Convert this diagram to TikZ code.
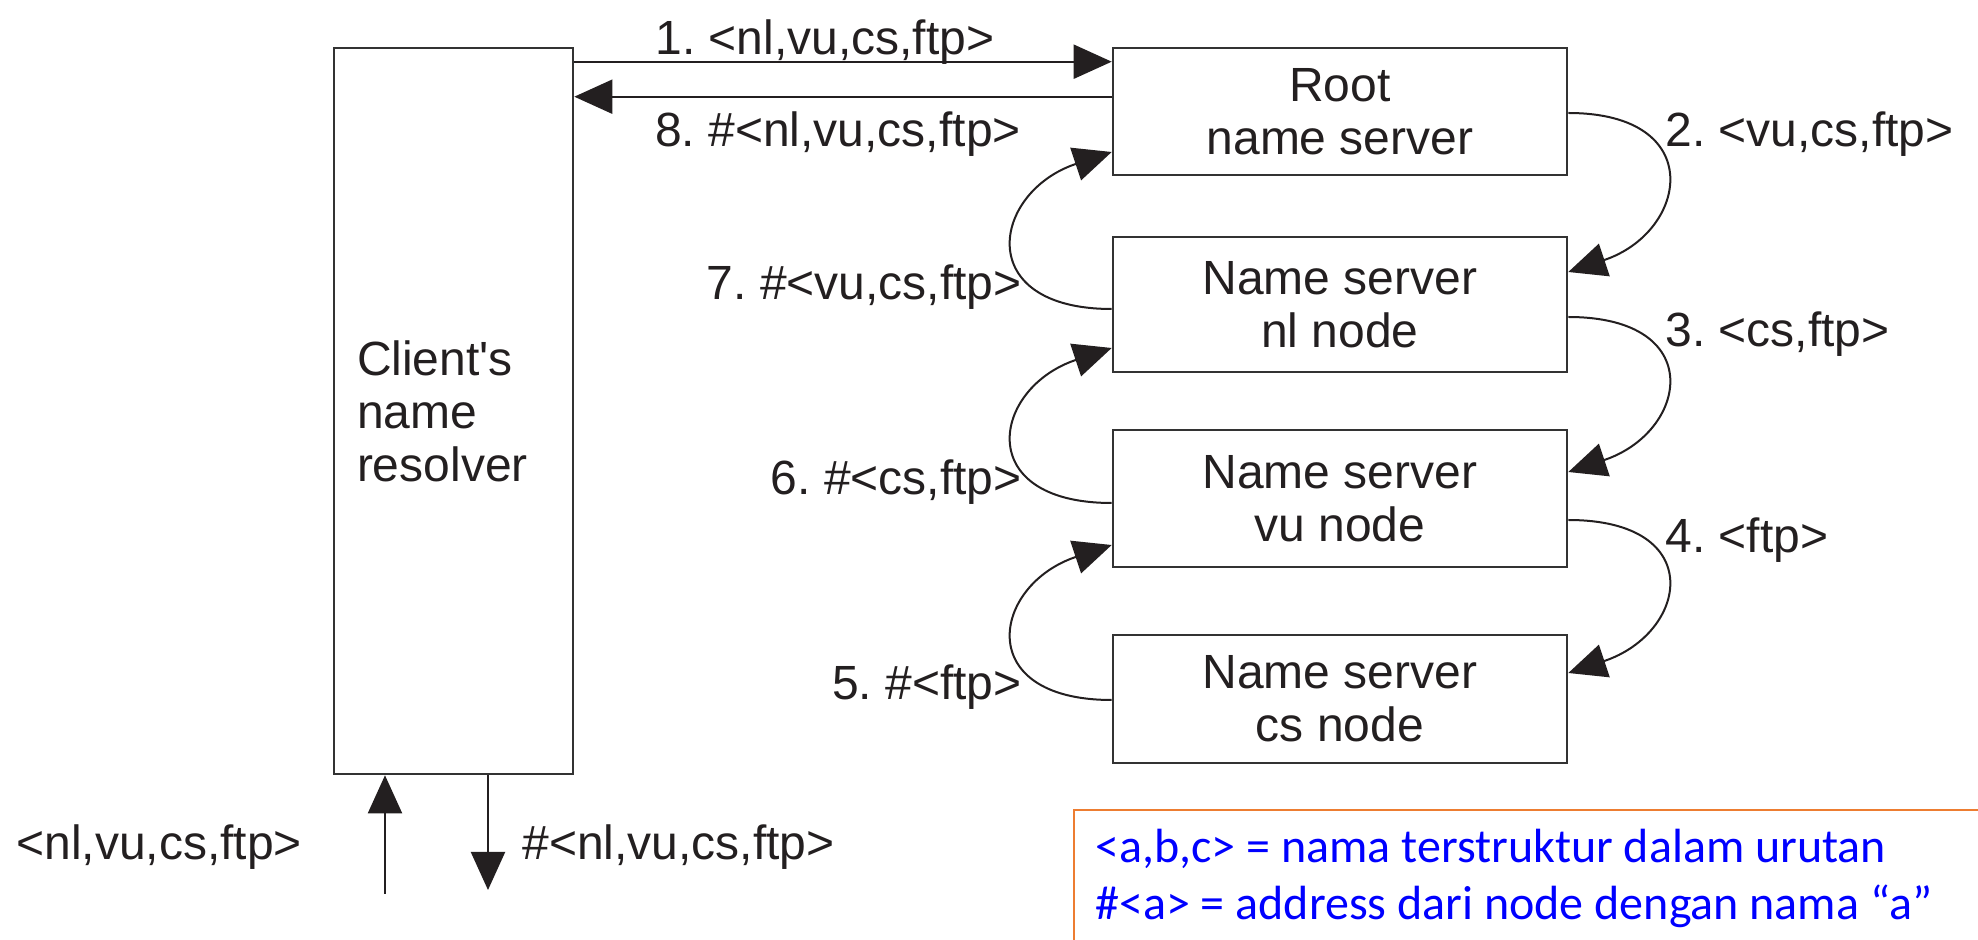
\documentclass[tikz,border=0pt]{standalone}
\usepackage{fontspec}
\newfontfamily\arialfont{Liberation Sans}
\newfontfamily\legfont{Carlito}
\usetikzlibrary{arrows.meta,calc}
\definecolor{ink}{HTML}{231F20}
\definecolor{boxline}{HTML}{333333}
\definecolor{legorange}{HTML}{ED7D31}
\definecolor{legblue}{HTML}{0000FF}
\frenchspacing
\begin{document}
\begin{tikzpicture}[x=0.5pt,y=0.5pt,
  txt/.style={font=\arialfont\fontsize{24pt}{26.5pt}\selectfont, text=ink, inner sep=0pt},
  server/.style={txt, draw=boxline, line width=1.3pt, minimum width=227pt, align=center},
  arr/.style={draw=ink, line width=1pt, -{Triangle[length=19pt,width=17pt]}},
  legtxt/.style={anchor=base west, inner sep=0pt, text=legblue, font=\legfont\fontsize{24pt}{29pt}\selectfont}
]
\path[use as bounding box] (0,0) rectangle (1978,-940);

% boxes
\node[txt, draw=boxline, line width=1.3pt, minimum width=119.5pt, minimum height=363pt,
      text width=96.5pt, inner xsep=11.5pt, align=left] (client) at (453.5,-411) {Client's\\name\\resolver};
\node[server, minimum height=63.5pt] (root) at (1340,-111.5) {Root\\name server};
\node[server, minimum height=67.5pt] (nl) at (1340,-304.5) {Name server\\nl node};
\node[server, minimum height=68.5pt] (vu) at (1340,-498.5) {Name server\\vu node};
\node[server, minimum height=64pt] (cs) at (1340,-699) {Name server\\cs node};

% client <-> root
\draw[arr] ([yshift=-7.5pt]client.north east) -- ([yshift=-7.5pt]root.north west);
\draw[arr] ([yshift=-25pt]root.north west) -- ([yshift=-25pt]client.north east);
\node[txt, anchor=base] (l1) at (825,-55) {1. <nl,vu,cs,ftp>};
\node[txt, anchor=base] (l8) at (838,-147) {8. \#<nl,vu,cs,ftp>};

% downward requests (right side)
\draw[arr] ([yshift=-0.75pt]root.east) .. controls +(140,0) and +(120,40) .. ([yshift=16.25pt]nl.east);
\draw[arr] ([yshift=-6.25pt]nl.east) .. controls +(140,0) and +(120,40) .. ([yshift=13.25pt]vu.east);
\draw[arr] ([yshift=-10.75pt]vu.east) .. controls +(140,0) and +(120,40) .. ([yshift=13pt]cs.east);
\node[txt, anchor=base west] (l2) at (1665,-147) {2. <vu,cs,ftp>};
\node[txt, anchor=base west] (l3) at (1665,-347) {3. <cs,ftp>};
\node[txt, anchor=base west] (l4) at (1665,-553) {4. <ftp>};

% upward replies (left side)
\draw[arr] ([yshift=-2.25pt]nl.west) .. controls +(-140,0) and +(-120,-40) .. ([yshift=-20.25pt]root.west);
\draw[arr] ([yshift=-2.25pt]vu.west) .. controls +(-140,0) and +(-120,-40) .. ([yshift=-21.75pt]nl.west);
\draw[arr] ([yshift=-0.5pt]cs.west) .. controls +(-140,0) and +(-120,-40) .. ([yshift=-23.25pt]vu.west);
\node[txt, anchor=base east] (l7) at (1022,-300) {7. \#<vu,cs,ftp>};
\node[txt, anchor=base east] (l6) at (1022,-495) {6. \#<cs,ftp>};
\node[txt, anchor=base east] (l5) at (1022,-700) {5. \#<ftp>};

% client input / output
\coordinate (inEnd) at (385,-894);
\coordinate (outEnd) at (488,-890);
\draw[arr] (inEnd) -- (inEnd |- client.south);
\draw[arr] (outEnd |- client.south) -- (outEnd);
\node[txt, anchor=base west] (qin) at (16,-860) {<nl,vu,cs,ftp>};
\node[txt, anchor=base west] (qout) at (522,-860) {\#<nl,vu,cs,ftp>};

% legend
\node[draw=legorange, line width=1pt, anchor=north west, minimum width=500pt, minimum height=120pt, inner sep=0pt] (legbox) at (1073,-809) {};
\node[legtxt] (leg1) at (1095,-863) {<a,b,c> = nama terstruktur dalam urutan};
\node[legtxt] (leg2) at (1095,-920) {\#<a> = address dari node dengan nama “a”};
\end{tikzpicture}
\end{document}
